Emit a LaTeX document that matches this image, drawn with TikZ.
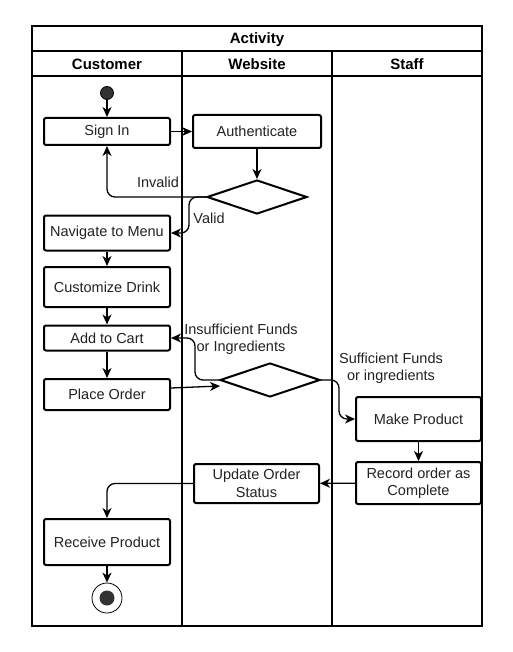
\documentclass[tikz,border=0pt]{standalone}
\usepackage{fontspec}
\setmainfont{Liberation Sans}
\usetikzlibrary{arrows.meta,shapes.geometric,calc}
\definecolor{txt}{HTML}{222222}
\begin{document}
\begin{tikzpicture}[x=1pt,y=-1pt,
  font=\fontsize{14.5}{17.5}\selectfont,
  lane/.style={line width=1.3pt},
  act/.style={draw, line width=2pt, rounded corners=2pt, fill=white, text=txt, align=center, inner sep=0pt},
  dec/.style={draw, line width=2pt, diamond, aspect=2.94, minimum width=100pt, minimum height=34pt, inner sep=0pt, fill=white},
  arr/.style={line width=1.3pt, -{Stealth[length=10pt,width=9pt,inset=3pt]}, rounded corners=8pt},
  lbl/.style={text=txt, align=center, inner sep=1pt},
  hdr/.style={font=\fontsize{15}{18}\selectfont\bfseries}
]
\useasboundingbox (0,0) rectangle (512,652);
% swimlanes
\draw[lane] (32,26) rectangle (482,626);
\draw[lane] (32,51) -- (482,51);
\draw[lane] (32,76) -- (482,76);
\draw[lane] (182,51) -- (182,626);
\draw[lane] (332,51) -- (332,626);
\node[hdr] (title) at (257,39.5) {Activity};
\node[hdr] (hc) at (107,64.5) {Customer};
\node[hdr] (hw) at (257,64.5) {Website};
\node[hdr] (hs) at (407,64.5) {Staff};
% nodes
\node[circle, fill=black!80, draw=black, line width=0.8pt, minimum size=13pt, inner sep=0pt] (start) at (107,93) {};
\node[act, minimum width=126pt, minimum height=27pt] (si) at (107,131.5) {Sign In};
\node[act, minimum width=128pt, minimum height=33pt] (au) at (257,131.5) {Authenticate};
\node[dec] (d1) at (257,197) {};
\node[act, minimum width=126pt, minimum height=35pt] (nm) at (107,233) {Navigate to Menu};
\node[act, minimum width=126pt, minimum height=40pt] (cd) at (107,287) {Customize Drink};
\node[act, minimum width=126pt, minimum height=25pt] (ac) at (107,338) {Add to Cart};
\node[act, minimum width=126pt, minimum height=31pt] (po) at (107,394.5) {Place Order};
\node[dec] (d2) at (270,380) {};
\node[act, minimum width=125pt, minimum height=44pt] (mp) at (418.5,419) {Make Product};
\node[act, minimum width=125pt, minimum height=42pt] (ro) at (418.5,483) {Record order as\\Complete};
\node[act, minimum width=125pt, minimum height=39pt] (us) at (256.5,483.5) {Update Order\\Status};
\node[act, minimum width=126pt, minimum height=46pt] (rp) at (107,542) {Receive Product};
\node[circle, draw=black, line width=0.8pt, fill=white, minimum size=30pt, inner sep=0pt] (end) at (107,598) {};
\node[circle, fill=black!80, minimum size=15pt, inner sep=0pt] (endin) at (107,598) {};
% labels
\node[lbl] (linv) at (158,182) {Invalid};
\node[lbl] (lval) at (209,218) {Valid};
\node[lbl] (lins) at (241,339) {Insufficient Funds\\or Ingredients};
\node[lbl] (lsuf) at (391,368) {Sufficient Funds\\or ingredients};
% edges
\draw[arr] (start) -- (si);
\draw[arr] (si) -- (au);
\draw[arr] (au) -- (d1);
\draw[arr] (d1.west) -| (si.south);
\draw[arr] (d1.west) -- ++(-17,0) |- (nm.east);
\draw[arr] (nm) -- (cd);
\draw[arr] (cd) -- (ac);
\draw[arr] (ac) -- (po);
\draw[arr] ($(po.east)+(0,-6.5)$) -- ($(d2.west)+(1,6)$);
\draw[arr] (d2.west) -- ++(-24,0) |- (ac.east);
\draw[arr] (d2.east) -- ++(18,0) |- (mp.west);
\draw[arr] (mp) -- (ro);
\draw[arr] (ro) -- (us);
\draw[arr] (us.west) -| (rp.north);
\draw[arr] (rp) -- (end);
\end{tikzpicture}
\end{document}
